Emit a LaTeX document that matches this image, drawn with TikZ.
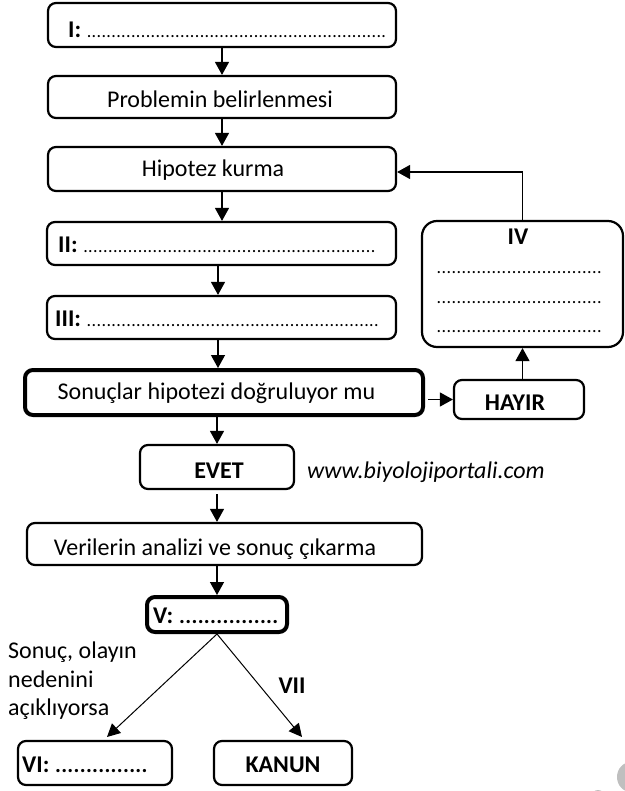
\documentclass[tikz,border=0pt]{standalone}
\usepackage{fontspec}
\setmainfont{Carlito}
\usetikzlibrary{arrows.meta}
\newcommand\dotrun[1]{{\fontsize{18}{18}\selectfont\hbox to #1{\xleaders\hbox to 4.9pt{\hss.\hss}\hfill}}}
\newcommand\bdotrun[1]{{\fontsize{22}{22}\selectfont\bfseries\hbox to #1{\xleaders\hbox to 5.9pt{\hss.\hss}\hfill}}}
\begin{document}
\begin{tikzpicture}[x=1pt,y=-1pt,
  box/.style={draw, line width=2.2pt, rounded corners=8pt, inner sep=0pt},
  thickbox/.style={box, line width=4pt},
  arr/.style={line width=1.3pt, -{Triangle[length=13pt,width=14pt]}},
  darr/.style={line width=1pt, -{Triangle[length=13pt,width=13pt]}},
  txt/.style={inner sep=0pt, font=\fontsize{24}{28}\selectfont},
  btxt/.style={txt, font=\fontsize{24}{28}\selectfont\bfseries},
]
\useasboundingbox (0,0) rectangle (624,791);
% boxes
\node[box, minimum width=348pt, minimum height=44pt] (b1) at (222,25) {};
\node[box, minimum width=348pt, minimum height=42pt] (b2) at (222,97) {};
\node[box, minimum width=348pt, minimum height=44pt] (b3) at (222,169) {};
\node[box, minimum width=349pt, minimum height=43pt] (b4) at (221.5,243.5) {};
\node[box, minimum width=349pt, minimum height=43pt] (b5) at (221.5,317.5) {};
\node[thickbox, minimum width=398pt, minimum height=45pt] (b6) at (224,392.5) {};
\node[box, minimum width=130pt, minimum height=39pt] (hay) at (519,399.5) {};
\node[box, rounded corners=15pt, minimum width=201pt, minimum height=126pt] (iv) at (522.5,284) {};
\node[box, minimum width=154pt, minimum height=44pt] (evet) at (217,467) {};
\node[box, minimum width=395pt, minimum height=42pt] (ver) at (224.5,544) {};
\node[thickbox, minimum width=140pt, minimum height=35pt] (v) at (217,614.5) {};
\node[box, minimum width=154pt, minimum height=44pt] (vi) at (95,763) {};
\node[box, minimum width=138pt, minimum height=44pt] (kan) at (283,763) {};
% texts
\node[txt, anchor=base west] (t1) at (68,38) {\textbf{I:} \dotrun{300pt}};
\node[txt, anchor=base] (t2) at (220,108) {Problemin belirlenmesi};
\node[txt, anchor=base] (t3) at (213,177) {Hipotez kurma};
\node[txt, anchor=base west] (t4) at (58,253) {\textbf{II:} \dotrun{293pt}};
\node[txt, anchor=base west] (t5) at (55,326) {\textbf{III:} \dotrun{293pt}};
\node[txt, anchor=base] (t6) at (216.5,399) {Sonuçlar hipotezi doğruluyor mu};
\node[btxt, anchor=base] (t7) at (515,410) {HAYIR};
\node[btxt, anchor=base] (t8) at (518,245) {IV};
\node[txt, anchor=base west] (d1) at (436,273) {\dotrun{166pt}};
\node[txt, anchor=base west] (d2) at (436,303) {\dotrun{166pt}};
\node[txt, anchor=base west] (d3) at (436,332) {\dotrun{166pt}};
\node[btxt, anchor=base] (t9) at (219,478) {EVET};
\node[txt, anchor=base west] (url) at (307,478) {\itshape www.biyolojiportali.com};
\node[txt, anchor=base] (t10) at (215,555) {Verilerin analizi ve sonuç çıkarma};
\node[btxt, anchor=base west] (t11) at (153,623) {V: \bdotrun{100pt}};
\node[txt, anchor=base west] (s1) at (8,658) {Sonuç, olayın};
\node[txt, anchor=base west] (s2) at (8,687) {nedenini};
\node[txt, anchor=base west] (s3) at (8,715) {açıklıyorsa};
\node[btxt, anchor=base] (t12) at (292,693) {VII};
\node[btxt, anchor=base west] (t13) at (22,772) {VI: \bdotrun{93pt}};
\node[btxt, anchor=base] (t14) at (283,772) {KANUN};
% connectors
\draw[arr] (b1) -- (b2);
\draw[arr] (b2) -- (b3);
\draw[arr] (b3.south) -- (b3.south |- b4.north);
\path ([xshift=-3.5pt]b4.south) coordinate (c4);
\draw[arr] (c4) -- (c4 |- b5.north);
\path ([xshift=-3.5pt]b5.south) coordinate (c5);
\draw[arr] (c5) -- (c5 |- b6.north);
\draw[arr] (b6.south -| evet.north) -- (evet.north);
\path ([yshift=-4pt]evet.south) coordinate (ce);
\draw[arr] (ce) -- (ce |- ver.north);
\draw[arr] (ver.south -| v.north) -- (v.north);
\path ([xshift=3pt]b6.east) coordinate (sa);
\draw[arr] (sa |- hay.west) -- (hay.west);
\draw[arr] (iv.south |- hay.north) -- (iv.south);
\draw[arr] (iv.north) |- ([yshift=-3pt]b3.east);
\coordinate (vitip) at (107,737);
\coordinate (kantip) at (302,737);
\draw[darr] (v.south) -- (vitip);
\draw[darr] (v.south) -- (kantip);
% faint mark
\fill[black!25] (631,777) ellipse [x radius=14, y radius=15];
\fill[black!25] (598,797) circle [radius=7];
\end{tikzpicture}
\end{document}
